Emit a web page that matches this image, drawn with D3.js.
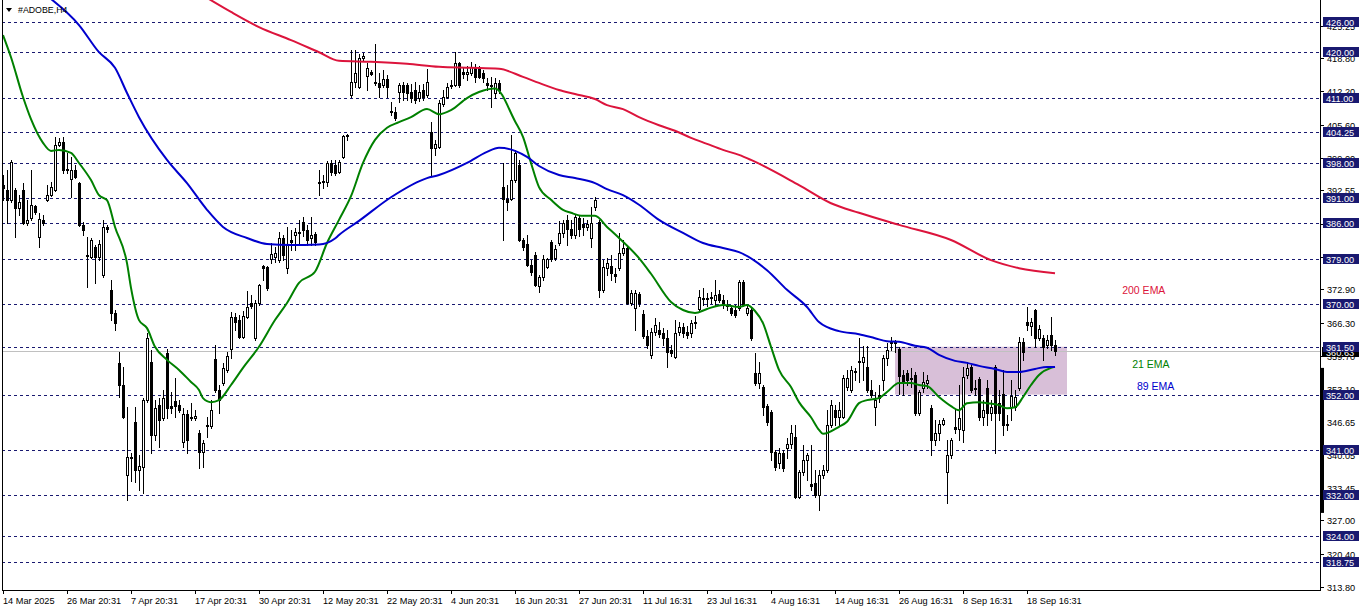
<!DOCTYPE html>
<html><head><meta charset="utf-8">
<script src="https://cdn.jsdelivr.net/npm/d3@7/dist/d3.min.js"></script>
<style>html,body{margin:0;padding:0;background:#fff;}svg{display:block;}</style>
</head><body><svg id="c" width="1362" height="611"></svg>
<script>
// ---- DATA ----
const title = "#ADOBE,H4";
// OHLC per H4 bar: [open, high, low, close]
const candles = [
[393.6,395.6,390.6,393.0],[392.6,396.6,386.1,390.6],[390.6,398.6,390.3,398.2],[392.6,393.0,383.3,389.1],[389.1,391.6,387.7,390.3],
[392.6,394.0,385.9,386.1],[386.1,390.6,385.7,386.7],[387.1,396.6,386.7,389.7],[389.5,389.7,387.9,388.3],[383.3,388.1,381.3,386.9],
[386.7,387.7,385.7,386.1],[390.6,393.6,390.5,391.6],[391.6,394.2,391.4,393.2],[392.6,403.2,392.4,401.6],[401.6,403.0,401.4,402.2],
[402.2,403.2,396.0,396.6],[396.8,400.0,396.0,396.6],[394.8,399.2,391.2,396.6],[396.6,397.6,395.0,395.2],[394.0,394.2,385.5,385.7],
[385.7,386.3,383.7,384.7],[379.7,383.3,373.4,379.5],[379.3,383.1,379.1,382.7],[381.3,381.7,374.2,379.3],[379.3,382.7,378.7,381.9],
[375.8,386.7,375.4,385.3],[385.3,385.7,384.3,384.9],[372.8,374.8,366.8,368.2],[368.2,368.8,364.8,366.2],[358.3,360.5,351.5,353.9],
[353.9,357.5,347.3,347.5],[336.0,349.5,331.1,339.6],[339.6,340.4,334.8,339.4],[346.6,349.5,334.6,337.0],[337.0,340.0,333.1,337.8],
[337.6,351.3,332.5,350.9],[350.9,364.2,350.5,363.2],[358.5,360.9,340.4,344.0],[344.0,350.9,343.0,349.3],[349.9,351.3,341.6,347.0],
[347.3,352.9,347.0,351.3],[360.3,361.1,347.3,349.3],[349.7,352.5,348.3,349.3],[350.7,355.3,347.5,349.7],[349.9,350.9,348.5,348.9],
[342.6,349.3,341.6,348.1],[348.1,348.9,340.4,343.0],[347.5,350.3,347.0,347.3],[347.3,348.9,347.0,347.7],[344.4,345.0,337.4,340.6],
[340.6,343.0,337.6,342.4],[345.8,347.5,343.6,346.0],[345.8,350.9,345.4,348.9],[359.1,361.9,352.5,352.9],[352.9,353.9,348.3,350.9],
[354.3,358.3,353.9,357.3],[356.9,360.5,356.5,359.7],[361.1,368.4,359.3,367.4],[367.4,368.2,364.8,366.4],[366.8,367.8,363.2,363.4],
[363.4,368.6,363.2,367.6],[367.4,372.6,367.2,369.4],[370.2,371.8,369.2,369.6],[363.2,370.8,362.9,370.2],[370.2,374.0,369.8,373.8],
[377.5,377.7,374.8,377.1],[377.3,377.5,372.8,373.2],[378.9,382.1,378.1,379.9],[379.3,381.3,378.3,380.1],[378.7,384.3,378.3,383.1],
[383.1,383.7,378.7,379.7],[377.1,385.3,376.2,381.7],[382.7,384.7,380.7,382.3],[383.7,385.1,380.7,384.3],[384.1,386.7,381.7,384.3],
[386.3,387.3,383.5,384.7],[384.7,385.7,381.7,382.7],[383.1,387.3,381.7,383.7],[383.9,384.3,381.7,382.3],[394.2,396.6,391.6,394.0],
[394.2,395.6,393.0,394.4],[394.2,398.4,393.4,398.0],[398.0,398.6,395.6,396.2],[397.6,398.6,395.6,396.0],[396.2,398.6,396.0,398.2],
[399.2,403.6,399.0,403.4],[403.4,403.8,402.6,403.6],[411.5,420.4,411.1,414.1],[414.1,420.4,413.1,415.9],[413.1,419.6,412.9,418.9],
[418.9,419.8,418.5,419.2],[415.3,417.9,412.5,416.9],[416.1,416.5,415.5,415.7],[414.1,421.6,413.5,413.9],[413.9,415.9,411.1,413.1],
[413.5,416.5,413.1,414.7],[414.7,415.5,411.1,413.1],[408.3,410.1,407.5,408.1],[408.1,409.1,406.5,406.9],[412.1,413.9,410.1,413.5],
[413.5,414.1,410.5,412.1],[413.5,413.9,410.5,411.9],[412.1,413.7,410.1,410.9],[412.5,414.1,409.9,410.5],[410.9,413.5,410.3,412.1],
[412.5,413.7,410.5,411.1],[411.5,416.7,411.1,414.1],[404.2,406.1,395.4,401.0],[401.0,402.6,399.6,401.8],[401.2,410.5,401.0,409.9],
[409.7,412.5,409.3,411.1],[411.1,413.9,410.9,413.1],[413.3,414.5,412.9,413.5],[413.5,420.0,413.3,417.9],[417.9,418.1,413.1,413.5],
[416.1,417.1,414.9,415.7],[415.7,417.3,414.5,416.1],[415.9,418.1,415.5,417.1],[416.9,417.7,414.1,415.1],[416.9,417.3,414.9,415.1],
[415.9,416.5,414.1,414.9],[413.9,414.9,412.5,413.5],[413.5,415.1,409.1,413.3],[411.9,414.9,410.9,413.9],[413.9,414.5,411.9,412.5],
[393.2,398.0,382.7,390.8],[390.8,393.6,388.7,390.3],[390.8,403.6,390.6,394.6],[394.6,400.6,394.2,400.0],[397.6,398.6,382.5,382.7],
[382.7,383.1,380.7,381.3],[381.9,383.7,377.5,377.7],[377.7,378.7,375.8,376.4],[379.7,380.3,373.6,373.8],[373.6,375.8,372.4,375.4],
[375.4,379.7,374.8,378.9],[377.3,379.1,377.1,378.9],[382.3,382.7,378.5,378.9],[379.1,381.7,378.7,380.9],[382.1,386.5,381.7,384.1],
[384.1,386.7,383.3,386.1],[386.7,387.7,381.7,384.9],[384.9,386.7,383.1,383.7],[383.7,387.7,383.1,387.3],[387.1,387.5,383.5,384.9],
[385.9,387.1,383.7,385.3],[385.3,386.7,384.7,385.9],[383.1,389.3,381.3,386.1],[389.3,391.2,388.7,390.6],[386.3,386.7,371.4,372.8],
[372.8,378.7,372.4,377.3],[377.1,379.1,375.8,378.1],[377.5,379.7,374.8,376.2],[376.0,377.1,374.4,375.6],[377.1,384.1,376.7,380.1],
[380.1,382.7,379.7,381.1],[381.1,381.3,370.0,370.2],[370.2,372.8,369.8,372.2],[369.2,372.8,364.8,372.2],[372.0,372.4,369.6,370.2],
[368.0,368.8,363.2,363.6],[363.6,364.8,361.3,361.9],[359.9,365.2,359.3,364.4],[364.4,367.2,363.8,365.8],[364.8,366.4,363.4,364.0],
[364.2,365.2,361.9,363.2],[363.2,364.8,357.5,360.5],[360.9,361.9,359.7,360.3],[359.5,366.8,359.3,364.2],[364.4,366.4,363.8,365.4],
[365.4,366.2,363.4,364.2],[364.4,365.6,363.2,363.8],[364.2,366.8,363.4,366.2],[366.2,367.6,365.2,366.4],[369.0,372.8,368.6,371.4],
[371.2,373.2,369.8,371.0],[371.2,372.2,369.6,371.0],[371.4,372.4,370.2,371.2],[370.8,374.8,369.8,371.8],[372.0,372.8,370.4,370.8],
[370.8,371.8,369.2,369.8],[369.8,370.8,368.8,369.6],[369.2,369.8,367.8,368.2],[368.8,369.8,367.4,367.8],[369.2,374.8,368.8,374.4],
[374.4,374.8,369.6,369.8],[368.2,369.8,367.8,369.2],[368.8,369.2,362.9,363.2],[356.3,360.3,353.9,354.3],[354.3,358.5,353.3,356.3],
[353.5,353.9,347.9,349.5],[349.7,350.1,346.0,346.6],[348.5,348.9,339.0,340.6],[340.6,341.0,337.0,337.6],[338.4,341.4,337.4,340.4],
[340.4,341.0,336.8,337.4],[341.4,343.4,339.4,342.2],[342.2,346.0,341.4,344.4],[343.6,346.0,331.5,331.7],[331.7,337.0,331.5,336.6],
[336.6,342.0,336.0,339.0],[339.0,340.4,335.0,340.0],[334.2,342.0,333.1,333.9],[334.4,337.0,331.7,332.1],[332.1,337.0,329.1,336.0],
[336.0,338.0,335.4,337.0],[337.0,348.9,336.6,346.0],[346.0,350.9,345.6,349.9],[348.9,349.9,346.0,347.5],[347.5,350.5,346.0,348.9],
[347.5,355.9,347.3,355.3],[353.5,356.9,352.9,355.3],[352.9,357.7,352.5,356.9],[356.7,357.3,354.9,356.5],[358.7,363.2,354.5,358.5],
[358.5,361.7,354.9,359.5],[357.5,361.7,352.5,352.9],[352.9,354.9,351.5,351.9],[349.5,352.5,346.0,350.9],[351.9,353.9,350.5,351.3],
[354.9,359.9,352.9,359.3],[359.3,362.3,357.9,360.9],[362.3,363.4,360.9,362.5],[362.3,362.9,360.5,362.5],[361.1,361.5,352.1,355.7],
[355.9,356.9,351.9,354.5],[356.3,356.9,353.9,354.9],[355.3,357.3,353.5,355.1],[355.9,356.5,347.9,348.3],[348.3,352.9,347.9,352.5],
[353.3,356.5,352.5,354.5],[354.3,355.9,353.3,354.9],[349.3,349.9,340.0,343.0],[343.0,347.0,342.0,344.4],[344.4,347.0,343.0,346.2],
[346.2,347.3,346.0,347.0],[336.6,343.0,330.5,340.0],[340.0,343.4,339.4,343.0],[345.6,348.9,344.4,345.2],[345.2,353.9,343.0,347.3],
[345.0,357.5,342.6,355.5],[355.9,358.5,355.3,357.3],[357.5,357.9,352.5,352.9],[353.3,354.9,351.9,353.1],[355.1,355.5,347.0,347.5],
[347.5,350.9,346.0,348.9],[353.3,354.9,346.0,348.3],[348.3,350.9,347.0,349.5],[357.5,357.9,340.4,348.3],[350.3,352.9,347.0,348.3],
[352.1,356.9,344.0,346.0],[346.2,347.9,345.0,346.0],[349.5,354.9,347.0,351.7],[349.5,352.9,348.9,351.5],[353.3,363.4,352.9,362.5],
[362.5,363.2,358.9,360.5],[366.4,369.4,364.8,365.8],[365.6,367.2,363.8,366.4],[368.8,369.0,361.5,363.2],[363.2,365.8,362.9,365.0],
[363.2,363.8,358.9,361.5],[361.9,363.8,361.3,362.9],[363.8,367.4,360.9,361.9],[361.9,362.9,359.9,360.6]
];
// Moving averages as [bar index, value]
const ema21 = [[0,423.4],[2,419.0],[5,411.1],[7,406.7],[10,402.0],[12,400.4],[14,400.6],[17,400.0],[19,398.0],[22,394.6],[24,391.6],[26,390.6],[28,385.3],[31,378.1],[32,373.2],[34,366.8],[36,365.2],[38,361.5],[41,358.9],[44,356.9],[47,354.5],[49,352.9],[50,351.3],[52,350.5],[54,350.9],[57,353.9],[60,357.3],[64,361.5],[68,366.8],[71,370.2],[74,374.2],[78,376.4],[81,382.1],[84,386.7],[87,391.4],[90,398.0],[93,402.6],[96,405.0],[99,406.1],[102,407.1],[106,408.7],[109,407.7],[112,408.5],[116,410.9],[119,412.1],[123,412.8],[128,406.3],[130,403.2],[132,398.0],[134,393.2],[137,390.7],[140,388.7],[142,388.1],[145,387.5],[148,387.5],[151,385.3],[154,383.1],[159,379.1],[162,376.0],[167,370.4],[170,368.8],[173,368.2],[176,369.0],[180,369.8],[184,369.4],[186,369.8],[188,368.6],[190,366.2],[192,361.5],[194,356.9],[197,353.5],[199,350.5],[202,347.5],[204,345.0],[205,344.2],[209,345.6],[211,346.6],[214,350.3],[216,350.9],[219,351.3],[221,352.5],[224,354.3],[227,354.3],[229,353.9],[231,353.7],[234,351.5],[237,349.7],[239,348.9],[241,350.3],[244,350.5],[246,350.3],[249,349.9],[251,349.3],[253,349.5],[255,351.5],[257,353.9],[259,355.9],[262,357.3],[263,357.5]];
const ema89 = [[11,431.2],[19,425.4],[24,420.0],[28,416.9],[31,411.9],[34,407.1],[41,398.6],[46,394.0],[51,388.7],[55,385.3],[61,383.1],[66,381.9],[72,381.7],[79,381.8],[83,383.0],[84,383.7],[89,386.5],[97,391.2],[106,395.0],[109,395.6],[116,398.0],[121,400.2],[124,401.0],[128,400.4],[131,399.2],[134,397.4],[139,395.6],[143,395.0],[148,394.0],[151,392.8],[155,391.6],[159,389.7],[164,386.7],[170,384.1],[175,382.1],[180,381.1],[184,380.3],[191,376.7],[196,372.8],[201,369.4],[204,366.4],[209,364.6],[214,364.0],[218,363.2],[221,362.6],[224,362.5],[228,361.7],[231,361.3],[234,359.9],[238,358.7],[241,358.3],[244,357.7],[248,357.1],[251,356.5],[254,356.5],[258,357.1],[261,357.5],[263,357.5]];
const ema200 = [[51,430.8],[57,428.0],[64,425.0],[72,422.4],[79,420.0],[84,418.3],[92,418.1],[101,417.7],[109,417.1],[117,416.9],[124,416.7],[130,415.1],[134,413.9],[139,412.5],[143,411.7],[148,410.7],[151,409.5],[155,408.7],[159,407.1],[164,405.5],[168,404.4],[172,403.0],[176,401.8],[180,400.6],[184,399.6],[187,398.6],[199,393.6],[207,390.0],[214,388.1],[224,385.7],[237,382.7],[247,378.7],[254,377.1],[263,376.1]];
const emaNames = ["200 EMA", "21 EMA", "89 EMA"];
const emaLabelAt = [[279.8, 372.8], [282.3, 358.1], [283.5, 353.7]];
// horizontal levels with price boxes
const levels = [426.00, 420.00, 411.00, 404.25, 398.00, 391.00, 386.00, 379.00, 370.00, 361.50, 352.00, 341.00, 332.00, 324.00, 318.75];
// price-scale tick labels
const priceTicks = [313.80, 320.40, 327.00, 333.45, 340.05, 346.65, 353.10, 359.70, 366.30, 372.90, 379.35, 385.95, 392.55, 399.00, 405.60, 412.20, 418.80, 425.25];
const lastPrice = 360.63;
// day range marker on the price scale
const rangeBar = [357.3, 328.5];
// time axis labels at bar indices
const timeTickIdx = [0, 16, 32, 48, 64, 80, 96, 112, 128, 144, 160, 176, 192, 208, 224, 240, 256];
const timeLabels = ["14 Mar 2025", "26 Mar 20:31", "7 Apr 20:31", "17 Apr 20:31", "30 Apr 20:31", "12 May 20:31", "22 May 20:31", "4 Jun 20:31", "16 Jun 20:31", "27 Jun 20:31", "11 Jul 16:31", "23 Jul 16:31", "4 Aug 16:31", "14 Aug 16:31", "26 Aug 16:31", "8 Sep 16:31", "18 Sep 16:31"];
// shaded zone: bar index range and price range
const zoneIdx = [223, 266];
const zonePrice = [361.5, 352.0];

// ---- DRAW ----
const svg = d3.select("#c");
const L = 2, R = 1320, T = 0, B = 590;
const x = d3.scaleLinear().domain([0, 263]).range([3, 1055]);
const y = d3.scaleLinear().domain([318.75, 426]).range([562, 22]);
const font = "'Liberation Sans', Arial, sans-serif";

const defs = svg.append("defs");
defs.append("clipPath").attr("id", "plot").append("rect").attr("x", L).attr("y", T).attr("width", R - L).attr("height", B - T);
const plot = svg.append("g").attr("clip-path", "url(#plot)");

// zone
plot.append("rect")
  .attr("x", x(zoneIdx[0]) ).attr("width", x(zoneIdx[1]) - x(zoneIdx[0]))
  .attr("y", y(zonePrice[0])).attr("height", y(zonePrice[1]) - y(zonePrice[0]))
  .attr("fill", "#d8bfd8");

// current price line
plot.append("line").attr("x1", L).attr("x2", R)
  .attr("y1", Math.round(y(lastPrice)) + 0.5).attr("y2", Math.round(y(lastPrice)) + 0.5)
  .attr("stroke", "#c0c0c0").attr("stroke-width", 1);

// level lines
plot.selectAll("line.lvl").data(levels).join("line").attr("class", "lvl")
  .attr("x1", L).attr("x2", R)
  .attr("y1", d => Math.round(y(d)) + 0.5).attr("y2", d => Math.round(y(d)) + 0.5)
  .attr("stroke", "#191970").attr("stroke-width", 1).attr("stroke-dasharray", "3,3");

// candles
const cg = plot.append("g").attr("shape-rendering", "crispEdges");
const cx = i => Math.round(x(i));
cg.selectAll("line.wick").data(candles).join("line").attr("class", "wick")
  .attr("x1", (d, i) => cx(i) + 0.5).attr("x2", (d, i) => cx(i) + 0.5)
  .attr("y1", d => Math.round(y(d[1]))).attr("y2", d => Math.round(y(d[2])) + 1)
  .attr("stroke", "#000");
cg.selectAll("rect.body").data(candles).join("rect").attr("class", "body")
  .attr("x", (d, i) => cx(i) - 0.5)
  .attr("width", 2)
  .attr("y", d => Math.round(y(Math.max(d[0], d[3]))) + 0.5)
  .attr("height", d => Math.max(0.001, Math.round(y(Math.min(d[0], d[3]))) - Math.round(y(Math.max(d[0], d[3])))))
  .attr("fill", d => d[3] >= d[0] ? "#fff" : "#000")
  .attr("stroke", "#000").attr("stroke-width", 1);

// EMA lines
const lineGen = d3.line().x(d => x(d[0])).y(d => y(d[1])).curve(d3.curveMonotoneX);
const emaColors = ["#dc143c", "#008000", "#0000cd"];
[ema200, ema21, ema89].forEach((s, k) => {
  plot.append("path").datum(s).attr("d", lineGen).attr("fill", "none")
    .attr("stroke", emaColors[k]).attr("stroke-width", 2);
});

// EMA labels
emaNames.forEach((n, k) => {
  svg.append("text").attr("x", x(emaLabelAt[k][0])).attr("y", y(emaLabelAt[k][1]) + 4)
    .attr("font-family", font).attr("font-size", 10.5).attr("fill", emaColors[k]).text(n);
});

// frame
const fr = svg.append("g").attr("stroke", "#000").attr("stroke-width", 1).attr("shape-rendering", "crispEdges");
fr.append("line").attr("x1", L + 0.5).attr("x2", L + 0.5).attr("y1", 0).attr("y2", B + 0.5);
fr.append("line").attr("x1", L).attr("x2", R + 1).attr("y1", B + 0.5).attr("y2", B + 0.5);
fr.append("line").attr("x1", R + 0.5).attr("x2", R + 0.5).attr("y1", 0).attr("y2", B + 1);

// time axis
const tg = svg.append("g");
timeTickIdx.forEach((ti, k) => {
  const xx = cx(ti) + 0.5;
  tg.append("line").attr("x1", xx).attr("x2", xx).attr("y1", B).attr("y2", B + 4).attr("stroke", "#000").attr("shape-rendering", "crispEdges");
  tg.append("text").attr("x", xx - 0.5).attr("y", B + 14).attr("font-family", font).attr("font-size", 9.2).attr("fill", "#000").text(timeLabels[k]);
});

// price axis ticks
const pg = svg.append("g");
priceTicks.forEach(v => {
  const yy = Math.round(y(v)) + 0.5;
  pg.append("line").attr("x1", R).attr("x2", R + 4).attr("y1", yy).attr("y2", yy).attr("stroke", "#000").attr("shape-rendering", "crispEdges");
  pg.append("text").attr("x", R + 7).attr("y", yy + 3.5).attr("font-family", font).attr("font-size", 9.2).attr("fill", "#000").text(v.toFixed(2));
});

// range bar on price axis
svg.append("rect").attr("x", R).attr("width", 4).attr("y", y(rangeBar[0])).attr("height", y(rangeBar[1]) - y(rangeBar[0])).attr("fill", "#000");

// current price box
const ly = Math.round(y(lastPrice));
svg.append("rect").attr("x", R + 2).attr("y", ly - 4).attr("width", 37).attr("height", 10).attr("fill", "#000");
svg.append("text").attr("x", R + 6).attr("y", ly + 4.5).attr("font-family", font).attr("font-size", 9.2).attr("fill", "#fff").text(lastPrice.toFixed(2));

// level boxes
levels.forEach(v => {
  const yy = Math.round(y(v));
  svg.append("rect").attr("x", R + 3).attr("y", yy - 5).attr("width", 36).attr("height", 10).attr("fill", "#191970");
  svg.append("text").attr("x", R + 6).attr("y", yy + 3.5).attr("font-family", font).attr("font-size", 9.2).attr("fill", "#fff").text(v.toFixed(2));
});

// title
svg.append("path").attr("d", "M6,8 L12,8 L9,12 Z").attr("fill", "#000");
svg.append("text").attr("x", 18).attr("y", 13).attr("font-family", font).attr("font-size", 8.8).attr("fill", "#000").text(title);
</script>
</body></html>
